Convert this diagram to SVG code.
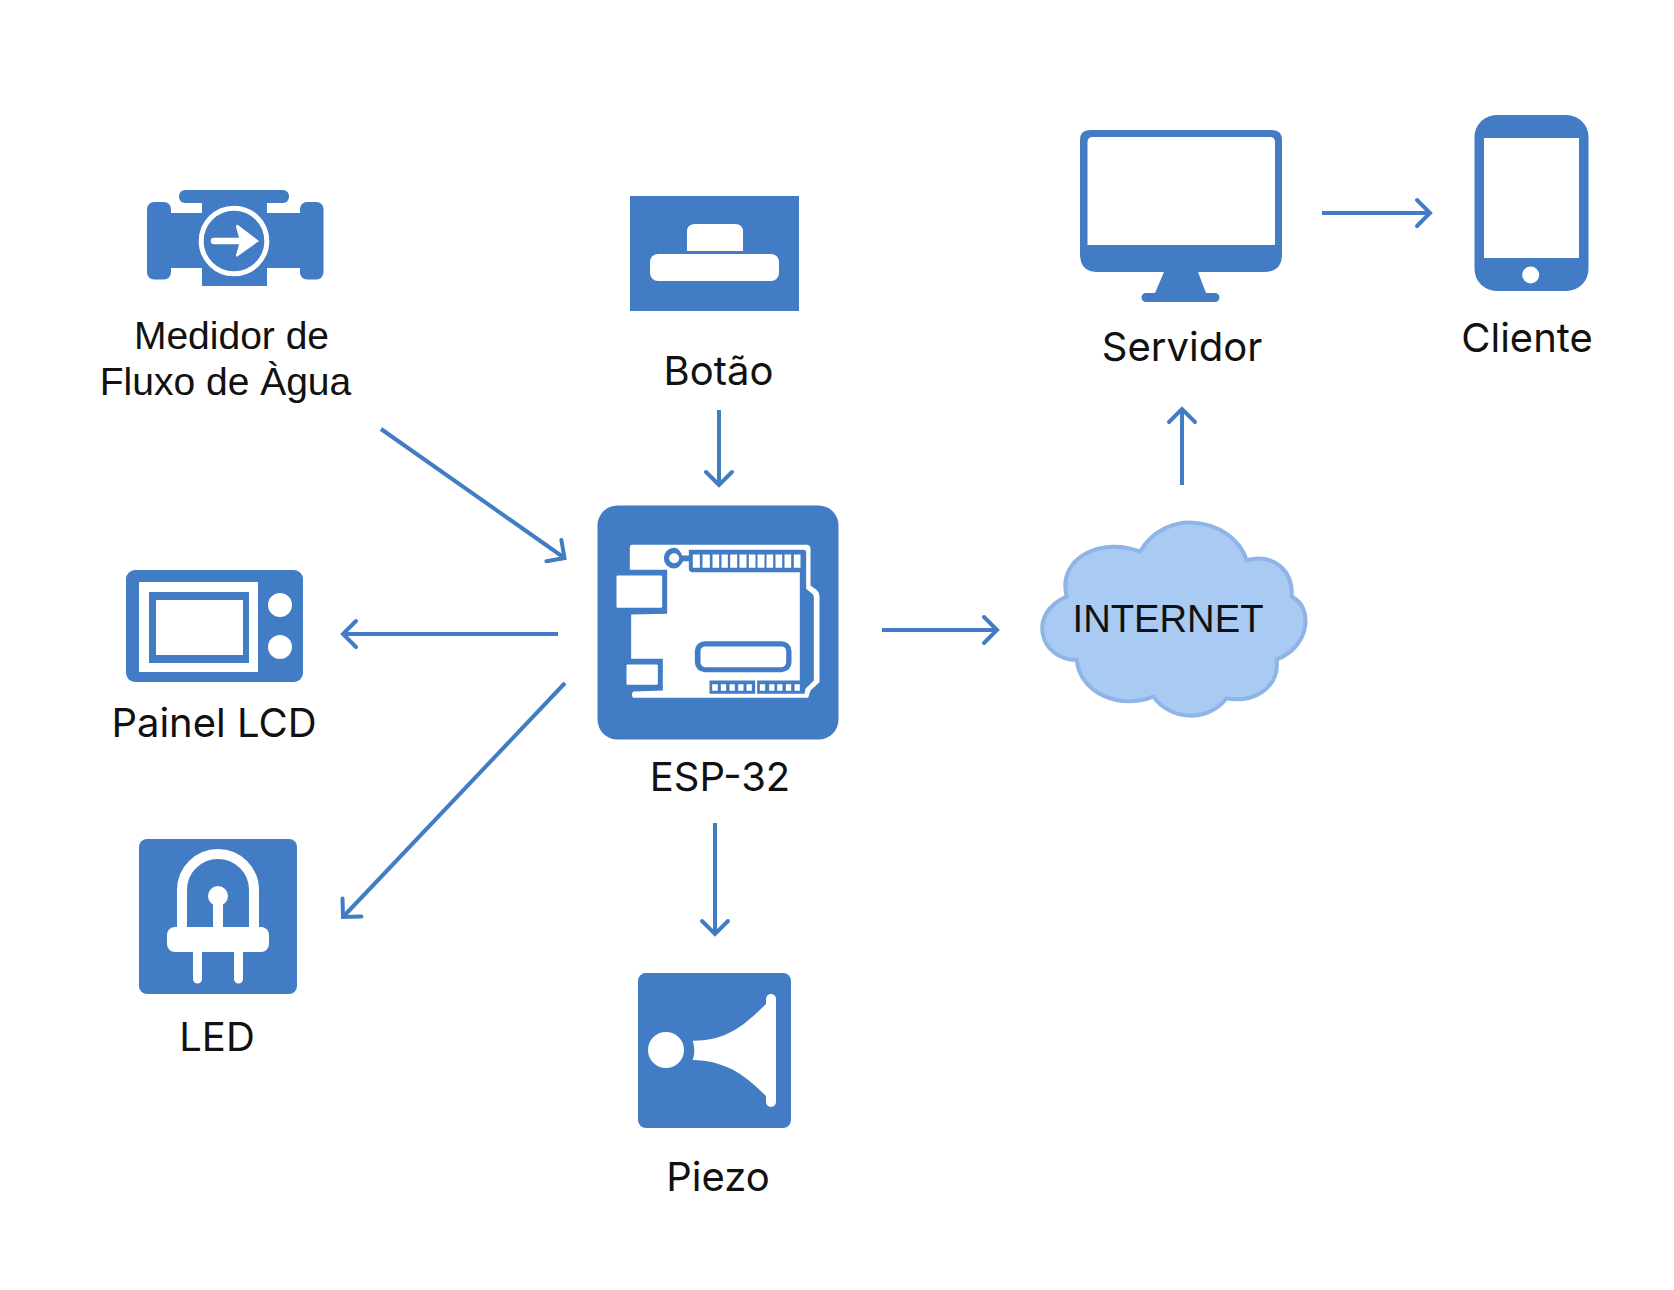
<svg xmlns="http://www.w3.org/2000/svg" width="1674" height="1290" viewBox="0 0 1674 1290">
<style>
.b{fill:#427cc4}
.w{fill:#fff}
.l{font-family:Inter,"Liberation Sans",sans-serif;font-size:40px;fill:#111;text-anchor:middle}
.a{font-family:"Liberation Sans",Arial,sans-serif;font-size:39px;fill:#111;text-anchor:middle}
.c{fill:none;stroke:#427cc4;stroke-width:4;marker-end:url(#arrow)}
</style>
<defs>
<marker id="arrow" markerUnits="userSpaceOnUse" markerWidth="40" markerHeight="40" refX="20" refY="20" orient="auto" overflow="visible">
<path d="M7,7 L20,20 L7,33" fill="none" stroke="#427cc4" stroke-width="4" stroke-linecap="round"/>
</marker>
</defs>
<rect width="1674" height="1290" fill="#fff"/>
<g id="connectors">
<path class="c" d="M381,429 L564.500,558"/>
<path class="c" d="M719,410 L719,485"/>
<path class="c" d="M558,634 L343,634"/>
<path class="c" d="M565,683 L343,917"/>
<path class="c" d="M882,630 L997,630"/>
<path class="c" d="M715,823 L715,934"/>
<path class="c" d="M1182,485 L1182,409"/>
<path class="c" d="M1322,213 L1430,213"/>
</g>
<g id="medidor">
<rect class="b" x="147" y="202" width="24" height="77.500" rx="7"/>
<rect class="b" x="300" y="202" width="23.500" height="77.500" rx="7"/>
<rect class="b" x="160" y="213" width="150" height="55"/>
<rect class="b" x="202" y="195" width="65" height="91"/>
<rect class="b" x="179" y="190" width="110" height="13" rx="6"/>
<circle cx="234" cy="241" r="32.800" fill="none" stroke="#fff" stroke-width="5"/>
<path d="M214,241 H243" stroke="#fff" stroke-width="6.500" stroke-linecap="round"/>
<path class="w" d="M259,241 L238,225 Q236,224 236,227 L240,241 L236,255 Q236,258 238,256 Z"/>
<text class="a"><tspan x="231.500" y="349">Medidor de</tspan><tspan x="225.500" y="395">Fluxo de Àgua</tspan></text>
</g>
<g id="botao">
<rect class="b" x="630" y="196" width="169" height="115"/>
<path class="w" d="M687,251 V232 Q687,224 695,224 H735 Q743,224 743,232 V251 Z"/>
<rect class="w" x="650" y="254" width="129" height="27" rx="8"/>
<text class="l" x="718.500" y="385">Botão</text>
</g>
<g id="esp32">
<rect class="b" x="597.500" y="505.500" width="241" height="234" rx="20"/>
<g transform="translate(580.500 490.500) scale(.33333)">
<path class="w" d="M148,170 Q148,163 155,163 L680,163 Q690,165 690,175 L690,285 L708,298 Q717,305 717,315 L717,575 L690,600 L683,622 L158,622 Q150,613 158,603 L247,600 L247,505 L152,505 L152,372 L260,370 L260,238 L148,238 Z"/>
<path class="b" d="M250,203 A31,31 0 0 1 281,172 Q296,172 305,195 L325,195 V178 H668 Q677,178 677,187 V295 L695,310 Q700,314 700,320 V570 L675,595 L672,610 H387 V570 H658 V245 H335 Q325,245 325,235 V212 L308,212 Q296,234 281,234 A31,31 0 0 1 250,203 Z"/>
<circle class="w" cx="281" cy="203" r="15"/>
<path class="w" d="M337 192h21v40h-21zM366 192h22v40h-22zM396 192h20v40h-20zM423 192h19v40h-19zM449 192h21v40h-21zM477 192h21v40h-21zM505 192h20v40h-20zM531 192h21v40h-21zM558 192h20v40h-20zM585 192h20v40h-20zM612 192h20v40h-20zM640 192h20v40h-20z"/>
<path class="w" d="M395 581h17v20h-17zM421 581h16v20h-16zM447 581h16v20h-16zM473 581h16v20h-16zM498 581h16v20h-16zM538 581h16v20h-16zM566 581h16v20h-16zM590 581h16v20h-16zM616 581h16v20h-16zM642 581h16v20h-16z"/>
<path class="w" d="M524,566 H530 V612 H524 Z"/>
<rect class="w" x="108" y="255" width="137" height="97" rx="4"/>
<rect class="w" x="138" y="522" width="94" height="61" rx="3"/>
<rect class="b" x="343" y="452" width="290" height="93" rx="30"/>
<rect class="w" x="360" y="468" width="257" height="62" rx="14"/>
</g>
<text class="l" x="720" y="791">ESP-32</text>
</g>
<g id="painel-lcd">
<rect class="b" x="126" y="570" width="177" height="112" rx="9"/>
<rect class="w" x="139" y="582" width="119" height="90"/>
<rect class="b" x="149" y="592" width="100" height="71"/>
<rect class="w" x="156" y="600" width="87" height="55"/>
<circle class="w" cx="280" cy="605" r="12"/>
<circle class="w" cx="280" cy="647" r="12"/>
<text class="l" x="214" y="737">Painel LCD</text>
</g>
<g id="led">
<rect class="b" x="139" y="839" width="158" height="155" rx="8"/>
<path d="M182,927 V890 A36,36 0 0 1 254,890 V927" fill="none" stroke="#fff" stroke-width="10"/>
<rect class="w" x="167" y="927" width="102" height="25" rx="8"/>
<path class="w" d="M193,950 H202 V979 A4.500,4.500 0 0 1 193,979 Z M234,950 H243 V979 A4.500,4.500 0 0 1 234,979 Z M213,930 V896 H223 V930 Z"/>
<circle class="w" cx="218" cy="896" r="10"/>
<text class="l" x="217" y="1051">LED</text>
</g>
<g id="piezo">
<rect class="b" x="638" y="973" width="153" height="155" rx="8"/>
<circle class="w" cx="666" cy="1050" r="18"/>
<rect class="w" x="766" y="994" width="10" height="113" rx="5"/>
<path class="w" d="M692.700,1040.700 C725,1041 743,1027 767,1003 L767,1097 C743,1073 725,1061 692.700,1060 Q696,1050 692.700,1040.700 Z"/>
<text class="l" x="718" y="1191">Piezo</text>
</g>
<g id="internet">
<g transform="translate(1020 500) scale(.33333)">
<path d="M360,155 C400,85 470,65 520,68 C600,72 660,120 680,180 C760,160 820,210 815,290 C880,320 872,440 770,478 C780,570 690,610 620,595 C560,670 450,660 400,590 C300,630 180,580 170,480 C60,480 20,340 140,290 C110,170 250,110 360,155 Z" fill="#a9caf2" stroke="#8eb5e6" stroke-width="12"/>
</g>
<text x="1168" y="632" font-family="'Liberation Sans',Arial,sans-serif" font-size="38.200" fill="#111" text-anchor="middle">INTERNET</text>
</g>
<g id="servidor">
<path class="b" d="M1090,130 H1272 Q1282,130 1282,140 V254 Q1282,272 1264,272 H1198 L1206,293 H1215 A4.500,4.500 0 0 1 1215,302 H1146 A4.500,4.500 0 0 1 1146,293 H1155 L1164,272 H1098 Q1080,272 1080,254 V140 Q1080,130 1090,130 Z"/>
<path class="w" d="M1093,137 H1270 Q1275,137 1275,142 V245 H1087.500 V142 Q1087.500,137 1093,137 Z"/>
<text class="l" x="1182" y="361">Servidor</text>
</g>
<g id="cliente">
<rect class="b" x="1474.500" y="115" width="114" height="176" rx="22"/>
<rect class="w" x="1484" y="138" width="95" height="120"/>
<circle class="w" cx="1530.700" cy="275" r="8.500"/>
<text class="l" x="1527" y="352">Cliente</text>
</g>
</svg>
